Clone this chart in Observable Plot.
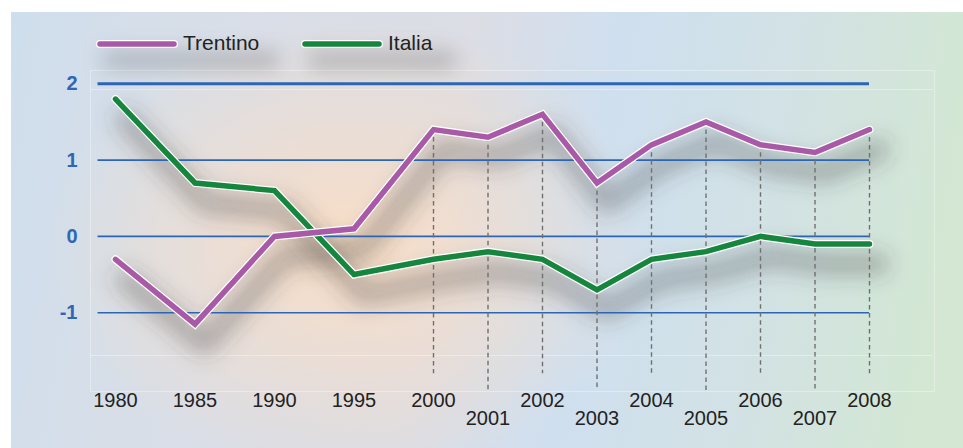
<!DOCTYPE html>
<html>
<head>
<meta charset="utf-8">
<script src="https://cdn.jsdelivr.net/npm/d3@7"></script>
<script src="https://cdn.jsdelivr.net/npm/@observablehq/plot@0.6"></script>
<style>
  html, body { margin: 0; padding: 0; background: #fff; }
  #wrap { position: relative; width: 963px; height: 448px; overflow: hidden;
          font-family: Arial, "Liberation Sans", sans-serif; }
  #panel { position: absolute; left: 11px; top: 12px; right: 0; bottom: 0;
    background:
      radial-gradient(ellipse 300px 230px at 340px 235px, rgba(249,222,198,1), rgba(249,222,198,0) 100%),
      linear-gradient(100deg, #cfdeed 0%, #d8dee8 18%, #dcdde5 45%, #cfdfef 60%, #d2e2e4 78%, #d3e7d3 95%);
  }
  #panel .glow { position: absolute; border: 1px solid rgba(255,255,255,0.35); }
  #legend { position: absolute; left: 0; top: 0; width: 963px; height: 80px; }
  #legend .item { position: absolute; top: 30px; height: 30px; }
  #legend .shade { position: absolute; top: 22px; height: 16px; background: rgba(70,70,70,0.30);
                   filter: blur(10px); border-radius: 8px; }
  #legend svg { position: absolute; left: 0; top: 7px; }
  #legend span { position: absolute; top: 0; font-size: 21px; color: #222; white-space: nowrap; line-height: 26px; }
  #chart { position: absolute; left: 0; top: 0; }
</style>
</head>
<body>
<div id="wrap">
  <div id="panel">
    <div class="glow" style="left:79px; top:58px; width:843px; height:320px;"></div>
    <div class="glow" style="left:79px; top:77px; width:843px; height:265px; border-left:none; border-right:none;"></div>
  </div>
  <div id="legend"></div>
  <div id="chart"></div>
</div>
<script>
// Years on the horizontal axis
const years = [1980, 1985, 1990, 1995, 2000, 2001, 2002, 2003, 2004, 2005, 2006, 2007, 2008];
// Series values
const trentino = [-0.3, -1.15, 0, 0.1, 1.4, 1.3, 1.6, 0.7, 1.2, 1.5, 1.2, 1.1, 1.4];
const italia   = [1.8, 0.7, 0.6, -0.5, -0.3, -0.2, -0.3, -0.7, -0.3, -0.2, 0, -0.1, -0.1];
// Series names and colours
const seriesNames = ["Trentino", "Italia"];
const seriesColors = ["#a95aa6", "#16863f"];
// Tick labels
const yTicks = [-1, 0, 1, 2];
const upperYears = [1980, 1985, 1990, 1995, 2000, 2002, 2004, 2006, 2008];
const lowerYears = [2001, 2003, 2005, 2007];
// Annual years that get a dashed guide, with where each guide stops
const guideEven = [2000, 2002, 2004, 2006, 2008];
const guideOdd = [2001, 2003, 2005, 2007];
const guideEndEven = -1.8;
const guideEndOdd = -2.02;

const rowsT = years.map((year, i) => ({year, value: trentino[i]}));
const rowsI = years.map((year, i) => ({year, value: italia[i]}));
const trentinoAt = new Map(rowsT.map(d => [d.year, d.value]));

const gridFrom = 1978.9;
const gridBlue = "#2c66b2";
const shadowInk = "#3a3a3a";

function seriesMarks(rows, color) {
  return [
    Plot.line(rows, {x: "year", y: "value", stroke: "#fff", strokeWidth: 8,
      strokeLinejoin: "miter", strokeMiterlimit: 6, strokeLinecap: "round"}),
    Plot.line(rows, {x: "year", y: "value", stroke: color, strokeWidth: 5.5,
      strokeLinejoin: "miter", strokeMiterlimit: 6, strokeLinecap: "round"})
  ];
}

function shadowMark(rows) {
  return Plot.line(rows, {x: "year", y: "value", stroke: shadowInk, strokeOpacity: 0.36,
    strokeWidth: 20, dx: 10, dy: 20, strokeLinejoin: "round"});
}

function guideMark(list, end) {
  return Plot.ruleX(list, {x: d => d, y1: d => trentinoAt.get(d), y2: end,
    stroke: "#707070", strokeWidth: 1.4, strokeDasharray: "4.5,3.5"});
}

const chart = Plot.plot({
  width: 963,
  height: 448,
  marginLeft: 90,
  marginRight: 30,
  marginTop: 70,
  marginBottom: 58,
  style: {background: "transparent", fontFamily: "Arial, 'Liberation Sans', sans-serif", overflow: "visible"},
  x: {type: "linear", domain: [1980, 2000, 2008], range: [115, 433, 869], axis: null},
  y: {domain: [-1, 2], range: [312.2, 83.3], axis: null},
  marks: [
    shadowMark(rowsI),
    shadowMark(rowsT),
    Plot.ruleY(yTicks.filter(v => v !== 2), {y: d => d, x1: gridFrom, x2: 2008, stroke: gridBlue, strokeWidth: 1.6}),
    Plot.ruleY([2], {y: d => d, x1: gridFrom, x2: 2008, stroke: gridBlue, strokeWidth: 3}),
    guideMark(guideEven, guideEndEven),
    guideMark(guideOdd, guideEndOdd),
    ...seriesMarks(rowsI, seriesColors[1]),
    ...seriesMarks(rowsT, seriesColors[0]),
    Plot.axisY({ticks: yTicks, anchor: "left", tickSize: 0, tickPadding: 13, label: null,
      tickFormat: d => String(d), fontSize: 20, fontWeight: "bold", color: "#2e68b5"}),
    Plot.axisX({ticks: upperYears, anchor: "bottom", tickSize: 0, tickPadding: 2, label: null,
      tickFormat: d => String(d), fontSize: 20, color: "#222"}),
    Plot.axisX({ticks: lowerYears, anchor: "bottom", tickSize: 0, tickPadding: 20, label: null,
      tickFormat: d => String(d), fontSize: 20, color: "#222"})
  ]
});

// Soft drop shadow for the two series lines
const svg = d3.select(chart);
const filter = svg.insert("defs", ":first-child").append("filter")
  .attr("id", "line-shadow").attr("filterUnits", "userSpaceOnUse")
  .attr("x", 0).attr("y", 0).attr("width", 963).attr("height", 448);
filter.append("feGaussianBlur").attr("stdDeviation", 11);
svg.selectAll("g").filter(function() { return this.getAttribute("stroke") === shadowInk; })
  .attr("filter", "url(#line-shadow)");
document.getElementById("chart").appendChild(chart);

// Legend above the plot area
const legendLeft = [96, 301];
const legend = d3.select("#legend");
seriesNames.forEach((name, i) => {
  const item = legend.append("div").attr("class", "item").style("left", legendLeft[i] + "px");
  item.append("div").attr("class", "shade").style("left", "6px").style("width", i === 0 ? "178px" : "150px");
  const s = item.append("svg").attr("width", 86).attr("height", 14);
  s.append("line").attr("x1", 4).attr("x2", 78).attr("y1", 7).attr("y2", 7)
    .attr("stroke", "#fff").attr("stroke-width", 8).attr("stroke-linecap", "round");
  s.append("line").attr("x1", 4).attr("x2", 78).attr("y1", 7).attr("y2", 7)
    .attr("stroke", seriesColors[i]).attr("stroke-width", 5.5).attr("stroke-linecap", "round");
  item.append("span").style("left", "87px").text(name);
});
</script>
</body>
</html>
